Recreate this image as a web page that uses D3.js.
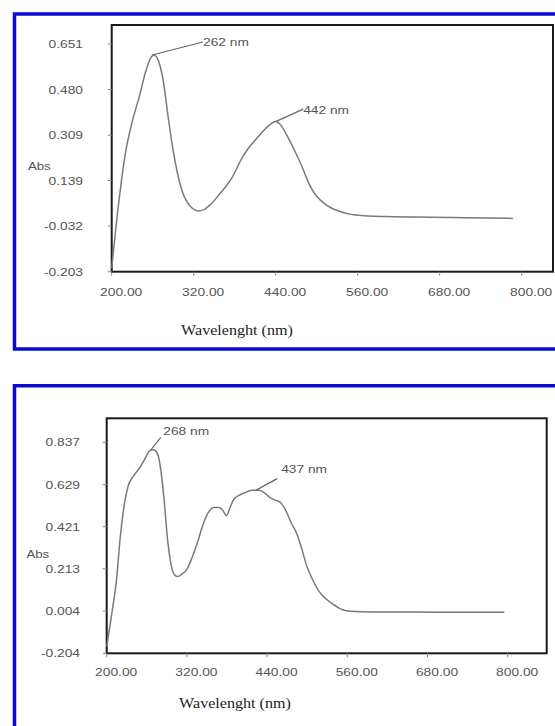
<!DOCTYPE html>
<html lang="en">
<head>
    <meta charset="UTF-8">
    <title>UV-Vis spectra</title>
    <script src="https://d3js.org/d3.v7.min.js"></script>
    <style>
        body {
            margin: 0;
            padding: 0;
            background: #fff;
            font-family: "Liberation Sans", Arial, sans-serif;
        }
        .frame { fill: none; stroke: #0a0ad2; stroke-width: 3.5; }
        .plot-box { fill: #fff; stroke: #1a1a1a; stroke-width: 2; }
        .spectrum { fill: none; stroke: #7a7a7a; stroke-width: 1.5; }
        .leader { stroke: #666; stroke-width: 1.2; }
        .tick-mark { stroke: #888; stroke-width: 1; }
        .tick-label { font-size: 11.5px; fill: #555; }
        .note { font-size: 11px; fill: #555; }
        .axis-title { font-family: "Liberation Serif", "Times New Roman", serif; font-size: 14px; fill: #222; }
    </style>
</head>
<body>
<div id="chart"></div>
<script>
// ---- data ----
const xTicks = [200, 320, 440, 560, 680, 800];

// top spectrum
const topWavelength = [200, 210, 220, 230, 240, 250, 258, 262, 268, 275, 283, 290, 296, 303, 310, 318, 326,
    335, 345, 360, 375, 390, 400, 410, 420, 430, 440, 448, 456, 466, 477, 490, 500, 510, 522, 535, 550,
    570, 600, 650, 700, 750, 787];
const topAbs = [-0.19, 0.05, 0.24, 0.36, 0.45, 0.55, 0.603, 0.61, 0.59, 0.52, 0.37, 0.25, 0.17, 0.10, 0.06, 0.035, 0.025,
    0.03, 0.05, 0.095, 0.145, 0.22, 0.26, 0.29, 0.32, 0.345, 0.36, 0.345, 0.31, 0.26, 0.20, 0.12, 0.08, 0.055, 0.035, 0.022, 0.012,
    0.007, 0.004, 0.002, 0.0, -0.002, -0.003];
const topYTicks = [-0.203, -0.032, 0.139, 0.309, 0.480, 0.651];
const topYLabels = ["-0.203", "-0.032", "0.139", "0.309", "0.480", "0.651"];
const topNotes = [
    { label: "262 nm", nm: 259, abs: 0.61 },
    { label: "442 nm", nm: 440, abs: 0.36 }
];

// bottom spectrum
const bottomWavelength = [200, 208, 215, 220, 225, 232, 240, 250, 258, 264, 270, 276, 281, 286, 291, 296, 301, 306,
    312, 320, 328, 336, 344, 352, 360, 368, 374, 379, 384, 390, 398, 408, 418, 428, 437, 444, 452, 460, 468,
    476, 484, 492, 500, 508, 518, 528, 540, 552, 565, 600, 700, 795];
const bottomAbs = [-0.17, 0.0, 0.17, 0.36, 0.50, 0.62, 0.67, 0.715, 0.76, 0.795, 0.80, 0.78, 0.70, 0.55, 0.36, 0.24, 0.185, 0.175,
    0.185, 0.21, 0.27, 0.345, 0.43, 0.49, 0.515, 0.515, 0.50, 0.475, 0.51, 0.555, 0.575, 0.59, 0.60, 0.60, 0.585, 0.565, 0.552, 0.54, 0.50,
    0.44, 0.39, 0.31, 0.22, 0.16, 0.10, 0.065, 0.035, 0.012, 0.003, 0.0, -0.001, -0.002];
const bottomYTicks = [-0.204, 0.004, 0.213, 0.421, 0.629, 0.837];
const bottomYLabels = ["-0.204", "0.004", "0.213", "0.421", "0.629", "0.837"];
const bottomNotes = [
    { label: "268 nm", nm: 266, abs: 0.80 },
    { label: "437 nm", nm: 423, abs: 0.60 }
];

const W = 555, H = 726;
const svg = d3.select("#chart").append("svg")
    .attr("width", W)
    .attr("height", H);

// text that looks a bit wider than the font (the scan is stretched)
function wideText(g, x, y, str, cls, anchor, sx) {
    return g.append("text")
        .attr("class", cls)
        .attr("transform", `translate(${x},${y}) scale(${sx},1)`)
        .attr("text-anchor", anchor)
        .attr("dy", "0.35em")
        .text(str);
}

function drawPanel(p) {
    const g = svg.append("g");

    // blue frame (runs off the page on the right / bottom)
    g.append("path")
        .attr("class", "frame")
        .attr("d", `M${W + 10},${p.frame.top} H${p.frame.left} V${p.frame.bottom} H${W + 10}`);

    const x = d3.scaleLinear().domain(p.xDomain).range([p.box.left, p.box.right]);
    const y = d3.scaleLinear().domain(p.yDomain).range([p.box.bottom, p.box.top]);

    g.append("rect")
        .attr("class", "plot-box")
        .attr("x", p.box.left)
        .attr("y", p.box.top)
        .attr("width", p.box.right - p.box.left)
        .attr("height", p.box.bottom - p.box.top);

    // y ticks
    p.yTicks.forEach((v, i) => {
        g.append("line").attr("class", "tick-mark")
            .attr("x1", p.box.left - 4).attr("x2", p.box.left)
            .attr("y1", y(v)).attr("y2", y(v));
        wideText(g, p.yLabelX, y(v), p.yLabels[i], "tick-label", "end", 1.2);
    });

    // x ticks
    xTicks.forEach(v => {
        g.append("line").attr("class", "tick-mark")
            .attr("x1", x(v)).attr("x2", x(v))
            .attr("y1", p.box.bottom).attr("y2", p.box.bottom + 4);
        wideText(g, x(v) + 9.5, p.box.bottom + p.xLabelGap, d3.format(".2f")(v), "tick-label", "middle", 1.2);
    });

    // spectrum
    const pts = p.nm.map((d, i) => [d, p.abs[i]]);
    const line = d3.line()
        .x(d => x(d[0]))
        .y(d => y(d[1]))
        .curve(d3.curveMonotoneX);
    g.append("path").attr("class", "spectrum").attr("d", line(pts));

    // peak notes
    p.notes.forEach((n, i) => {
        const o = p.noteOffsets[i];
        const ax = x(n.nm), ay = y(n.abs);
        g.append("line").attr("class", "leader")
            .attr("x1", ax).attr("y1", ay)
            .attr("x2", ax + o.lx).attr("y2", ay + o.ly);
        wideText(g, ax + o.tx, ay + o.ty, n.label, "note", "start", 1.25);
    });

    wideText(g, p.absPos[0], p.absPos[1], "Abs", "note", "start", 1.2);
    wideText(g, p.titlePos[0], p.titlePos[1], "Wavelenght (nm)", "axis-title", "middle", 1.15);
}

drawPanel({
    frame: { left: 14.5, top: 14, bottom: 349 },
    box: { left: 111.7, right: 553, top: 25, bottom: 271.7 },
    xDomain: [200, 845.8],
    yDomain: [-0.203, 0.7224],
    yTicks: topYTicks, yLabels: topYLabels,
    yLabelX: 83, xLabelGap: 20,
    nm: topWavelength, abs: topAbs,
    notes: topNotes,
    noteOffsets: [
        { lx: 51, ly: -13, tx: 51, ty: -13 },
        { lx: 27.5, ly: -12.5, tx: 27.5, ty: -11.5 }
    ],
    absPos: [28, 166],
    titlePos: [237, 330]
});

drawPanel({
    frame: { left: 14.5, top: 385.7, bottom: 760 },
    box: { left: 106.7, right: 546.7, top: 418.3, bottom: 653.3 },
    xDomain: [200, 858.4],
    yDomain: [-0.204, 0.9555],
    yTicks: bottomYTicks, yLabels: bottomYLabels,
    yLabelX: 80, xLabelGap: 18.5,
    nm: bottomWavelength, abs: bottomAbs,
    notes: bottomNotes,
    noteOffsets: [
        { lx: 10, ly: -12.5, tx: 12.5, ty: -18.5 },
        { lx: 21.5, ly: -11.7, tx: 25.5, ty: -21.7 }
    ],
    absPos: [26.5, 554],
    titlePos: [235, 703]
});
</script>
</body>
</html>
